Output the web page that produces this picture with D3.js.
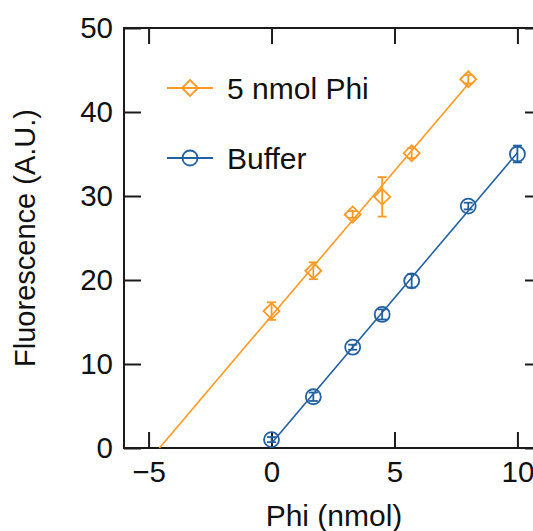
<!DOCTYPE html>
<html>
<head>
<meta charset="utf-8">
<script src="https://cdn.jsdelivr.net/npm/d3@7"></script>
<style>
  html, body { margin: 0; padding: 0; background: #fff; }
  svg { display: block; font-family: "Liberation Sans", Arial, sans-serif; }
</style>
</head>
<body>
<svg id="chart" width="533" height="531"></svg>
<script>
// ---- data ----
const phiX   = [0, 1.7, 3.3, 4.5, 5.7, 8];
const phiY   = [16.3, 21.1, 27.8, 29.9, 35.1, 43.9];
const phiErr = [1.05, 1.0, 0.4, 2.35, 0.6, 0.5];

const bufX   = [0, 1.7, 3.3, 4.5, 5.7, 8, 10];
const bufY   = [1.0, 6.1, 12.0, 15.9, 19.9, 28.8, 35.0];
const bufErr = [0.3, 0.5, 0.3, 0.6, 0.8, 0.4, 1.0];

// linear fits (slope, intercept) and their drawn x-range
const phiFit = { slope: 3.45, intercept: 15.74, x0: -4.56, x1: 8 };
const bufFit = { slope: 3.46, intercept: 0.56, x0: 0, x1: 10 };

const xTicks = [-5, 0, 5, 10];
const yTicks = [0, 10, 20, 30, 40, 50];
const seriesNames = ["5 nmol Phi", "Buffer"];
const xTitle = "Phi (nmol)";
const yTitle = "Fluorescence (A.U.)";

// ---- layout ----
const orange = "#ff9a26";
const blue = "#22609f";
const axisColor = "#1a1a1a";
const svg = d3.select("#chart");
const L = 124, R = 542, T = 28, B = 448;
const x = d3.scaleLinear().domain([-6, 11]).range([L, R]);
const y = d3.scaleLinear().domain([0, 50]).range([B, T]);
const fs = 29.5;

// axes
const ax = (g, axis) => {
  g.call(axis);
  g.select(".domain").remove();
  g.selectAll(".tick line").attr("stroke", axisColor).attr("stroke-width", 2);
  g.selectAll("text").attr("fill", "#111").style("font-size", fs + "px")
   .style("font-family", '"Liberation Sans", Arial, sans-serif');
};
svg.append("g").attr("transform", `translate(0,${B})`)
  .call(g => ax(g, d3.axisBottom(x).tickValues(xTicks).tickSizeInner(-16).tickSizeOuter(0).tickPadding(13)));
svg.append("g").attr("transform", `translate(0,${T})`)
  .call(g => ax(g, d3.axisTop(x).tickValues(xTicks).tickSizeInner(-16).tickSizeOuter(0).tickFormat("")));
svg.append("g").attr("transform", `translate(${L},0)`)
  .call(g => ax(g, d3.axisLeft(y).tickValues(yTicks).tickSizeInner(-17).tickSizeOuter(0).tickPadding(11)));
svg.append("g").attr("transform", `translate(${R},0)`)
  .call(g => ax(g, d3.axisRight(y).tickValues(yTicks).tickSizeInner(-17).tickSizeOuter(0).tickFormat("")));

svg.append("rect").attr("x", L).attr("y", T).attr("width", R - L).attr("height", B - T)
  .attr("fill", "none").attr("stroke", axisColor).attr("stroke-width", 2);

// axis titles
svg.append("text").attr("x", 334).attr("y", 526).attr("text-anchor", "middle")
  .style("font-size", "30px").attr("fill", "#111").text(xTitle);
svg.append("text").attr("transform", "translate(35,238) rotate(-90)").attr("text-anchor", "middle")
  .style("font-size", "29px").attr("fill", "#111").text(yTitle);

// fit lines
const line = d3.line().x(d => x(d[0])).y(d => y(d[1]));
function fitLine(f, color) {
  svg.append("path")
    .attr("d", line([[f.x0, f.slope * f.x0 + f.intercept], [f.x1, f.slope * f.x1 + f.intercept]]))
    .attr("stroke", color).attr("stroke-width", 1.6).attr("fill", "none");
}
fitLine(phiFit, orange);
fitLine(bufFit, blue);

// error bars + markers
const diamond = (cx, cy, s) => `M${cx},${cy - s}L${cx + s},${cy}L${cx},${cy + s}L${cx - s},${cy}Z`;
function series(xs, ys, es, color, shape) {
  const g = svg.append("g").attr("stroke", color).attr("fill", "none").attr("stroke-width", 1.8);
  xs.forEach((xv, i) => {
    const cx = x(xv), cy = y(ys[i]);
    const top = y(ys[i] + es[i]), bot = y(ys[i] - es[i]);
    g.append("line").attr("x1", cx).attr("x2", cx).attr("y1", top).attr("y2", bot);
    g.append("line").attr("x1", cx - 4.5).attr("x2", cx + 4.5).attr("y1", top).attr("y2", top);
    g.append("line").attr("x1", cx - 4.5).attr("x2", cx + 4.5).attr("y1", bot).attr("y2", bot);
    if (shape === "diamond") g.append("path").attr("d", diamond(cx, cy, 8));
    else g.append("circle").attr("cx", cx).attr("cy", cy).attr("r", 7.5);
  });
}
series(phiX, phiY, phiErr, orange, "diamond");
series(bufX, bufY, bufErr, blue, "circle");

// legend
const leg = [
  { name: seriesNames[0], color: orange, shape: "diamond", ly: 88 },
  { name: seriesNames[1], color: blue, shape: "circle", ly: 158 }
];
leg.forEach(d => {
  const g = svg.append("g").attr("stroke", d.color).attr("fill", "none").attr("stroke-width", 1.8);
  g.append("line").attr("x1", 167).attr("x2", 213).attr("y1", d.ly).attr("y2", d.ly);
  if (d.shape === "diamond") g.append("path").attr("d", diamond(190, d.ly, 8));
  else g.append("circle").attr("cx", 190).attr("cy", d.ly).attr("r", 7.5);
  svg.append("text").attr("x", 227).attr("y", d.ly + 10.5).style("font-size", "30px")
    .attr("fill", "#111").text(d.name);
});
</script>
</body>
</html>
